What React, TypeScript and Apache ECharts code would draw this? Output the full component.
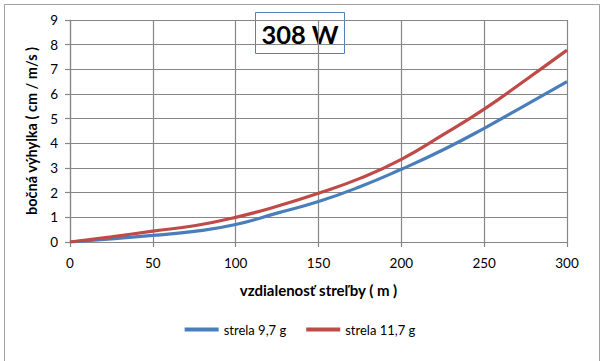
import React, { useEffect, useRef } from "react";
import * as echarts from "echarts";

const distances = [0, 25, 50, 75, 100, 125, 150, 175, 200, 225, 250, 275, 300];
const bullet97 = [0, 0.13, 0.27, 0.43, 0.71, 1.17, 1.64, 2.24, 2.95, 3.73, 4.61, 5.55, 6.5];
const bullet117 = [0, 0.21, 0.44, 0.66, 1.0, 1.45, 1.98, 2.58, 3.35, 4.34, 5.39, 6.57, 7.78];
const seriesNames = ["strela 9,7 g", "strela 11,7 g"];
const titleText = "308 W";
const xName = "vzdialenosť streľby ( m )";
const yName = "bočná výhylka ( cm / m/s )";

const FONT = "Lato, 'Open Sans', sans-serif";
const GRID = "#868686";

export default function App() {
  const ref = useRef<HTMLDivElement>(null);
  useEffect(() => {
    if (!ref.current) return;
    const chart = echarts.init(ref.current, null, { renderer: "svg" });
    const toPairs = (ys: number[]) => distances.map((d, i) => [d, ys[i]]);
    chart.setOption({
      animation: false,
      backgroundColor: "#ffffff",
      textStyle: { fontFamily: FONT },
      grid: { left: 70, right: 33, top: 20, bottom: 119, containLabel: false },
      xAxis: {
        type: "value",
        min: 0,
        max: 300,
        interval: 50,
        name: xName,
        nameLocation: "middle",
        nameGap: 40,
        nameTextStyle: { fontWeight: "bold", fontSize: 15, color: "#000", fontFamily: FONT },
        axisLine: { show: true, lineStyle: { color: GRID, width: 1.2 } },
        axisTick: { show: true, length: 5, lineStyle: { color: GRID, width: 1.2 } },
        axisLabel: { fontSize: 13.5, color: "#000", margin: 14, fontFamily: FONT },
        splitLine: { show: true, lineStyle: { color: GRID, width: 1.2 } },
      },
      yAxis: {
        type: "value",
        min: 0,
        max: 9,
        interval: 1,
        name: yName,
        nameLocation: "middle",
        nameGap: 29,
        nameTextStyle: { fontWeight: "bold", fontSize: 14.5, color: "#000", fontFamily: FONT },
        axisLine: { show: true, lineStyle: { color: GRID, width: 1.2 } },
        axisTick: { show: true, length: 5, lineStyle: { color: GRID, width: 1.2 } },
        axisLabel: { fontSize: 13.5, color: "#000", margin: 12, fontFamily: FONT },
        splitLine: { show: true, lineStyle: { color: GRID, width: 1.2 } },
      },
      legend: {
        bottom: 20,
        left: "center",
        icon: "rect",
        itemWidth: 34,
        itemHeight: 4,
        itemGap: 20,
        textStyle: { fontSize: 13, color: "#000", fontFamily: FONT },
        data: seriesNames,
      },
      series: [
        {
          name: seriesNames[0],
          type: "line",
          smooth: true,
          symbol: "none",
          data: toPairs(bullet97),
          lineStyle: { color: "#4a7ebb", width: 3.2 },
          itemStyle: { color: "#4a7ebb" },
        },
        {
          name: seriesNames[1],
          type: "line",
          smooth: true,
          symbol: "none",
          data: toPairs(bullet117),
          lineStyle: { color: "#be4b48", width: 3.2 },
          itemStyle: { color: "#be4b48" },
        },
      ],
      graphic: [
        {
          type: "rect",
          left: 2,
          top: 2,
          shape: { width: 595, height: 357 },
          style: { fill: "none", stroke: "#a0a0a0", lineWidth: 1 },
          silent: true,
        },
        {
          type: "group",
          left: 255,
          top: 12,
          children: [
            {
              type: "rect",
              shape: { x: 0, y: 0, width: 89, height: 41 },
              style: { fill: "#ffffff", stroke: "#4f81bd", lineWidth: 1 },
            },
            {
              type: "text",
              x: 44.5,
              y: 21,
              style: {
                text: titleText,
                fontSize: 25.5,
                fontWeight: "bold",
                fontFamily: FONT,
                fill: "#000",
                align: "center",
                verticalAlign: "middle",
              },
            },
          ],
        },
      ],
    });
    return () => chart.dispose();
  }, []);
  return <div ref={ref} style={{ width: 600, height: 361, position: "absolute", left: 0, top: 0 }} />;
}
